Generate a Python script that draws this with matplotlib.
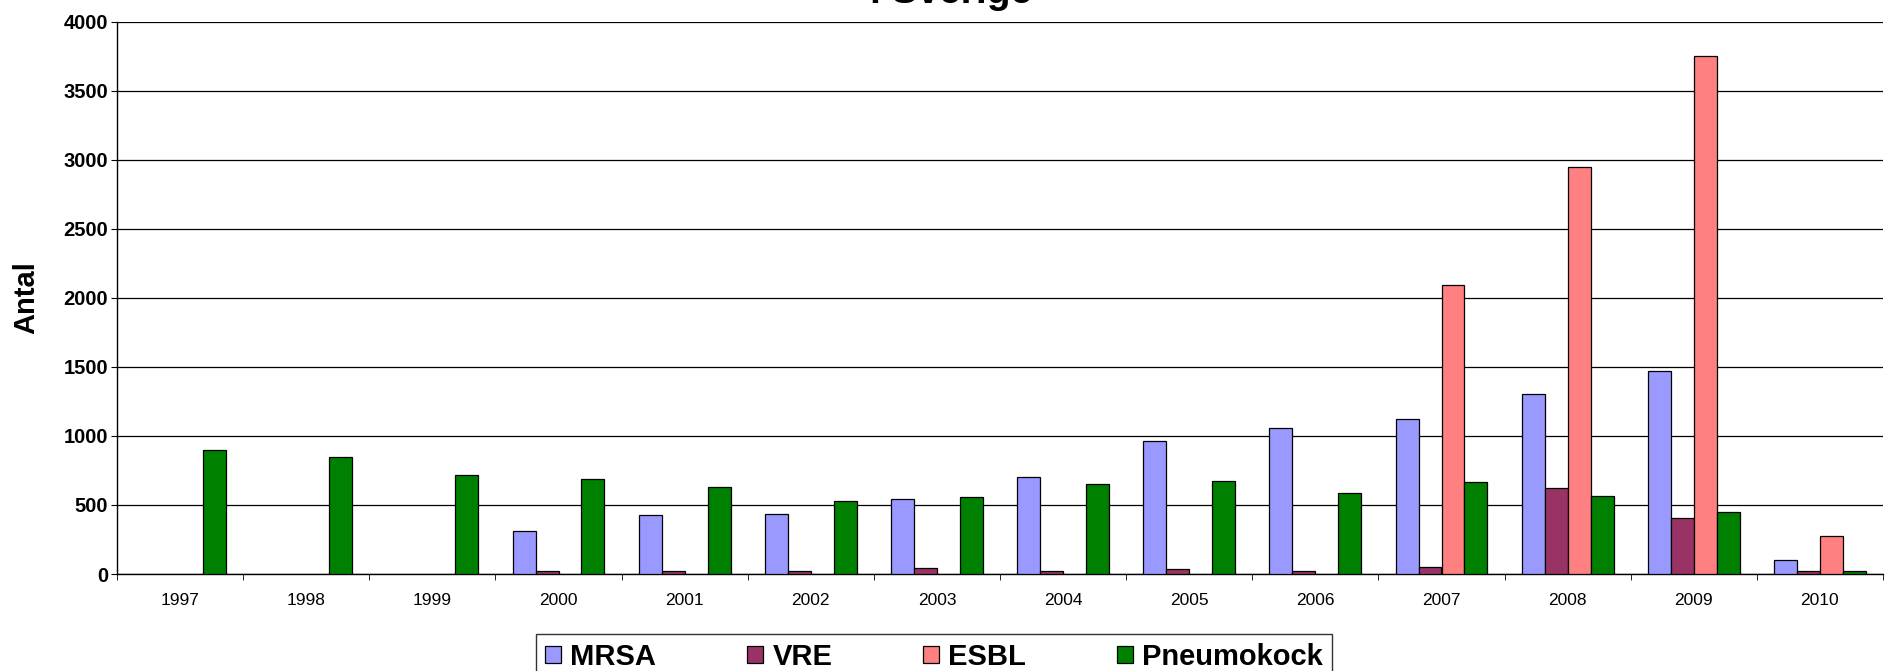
import matplotlib
matplotlib.use('Agg')
import matplotlib.pyplot as plt
import numpy as np

plt.rcParams['font.family'] = ['Liberation Sans', 'DejaVu Sans']

# data (None = no bar)
years = ['1997', '1998', '1999', '2000', '2001', '2002', '2003',
         '2004', '2005', '2006', '2007', '2008', '2009', '2010']
mrsa = [None, None, None, 313, 424, 436, 540, 700, 965, 1057, 1125, 1305, 1473, 99]
vre = [None, None, None, 22, 22, 22, 46, 22, 34, 19, 53, 620, 403, 19]
esbl = [None, None, None, None, None, None, None, None, None, None, 2095, 2950, 3751, 277]
pneumokock = [899, 845, 720, 686, 628, 528, 560, 655, 673, 586, 663, 564, 452, 19]

series = [('MRSA', mrsa, '#9999FF'),
          ('VRE', vre, '#993366'),
          ('ESBL', esbl, '#FF8080'),
          ('Pneumokock', pneumokock, '#008000')]

W, H = 1887, 671
fig = plt.figure(figsize=(W / 100, H / 100), dpi=100)
ax = fig.add_axes([117 / W, 97 / H, (1883 - 117) / W, (574 - 21.7) / H])

x = np.arange(len(years))
bw = 1 / 5.5  # excel gap width 150%
handles = []
for i, (name, vals, col) in enumerate(series):
    off = (i - 1.5) * bw
    xs = [x[j] + off for j, v in enumerate(vals) if v is not None]
    hs = [v for v in vals if v is not None]
    b = ax.bar(xs, hs, width=bw, color=col, edgecolor='black', linewidth=0.9, zorder=3)
    handles.append(b)

ax.set_xlim(-0.5, len(years) - 0.5)
ax.set_ylim(0, 4000)
ax.set_yticks(np.arange(0, 4001, 500))
ax.yaxis.grid(True, color='black', linewidth=0.9, zorder=0)
ax.set_axisbelow(True)

for s in ['top', 'right']:
    ax.spines[s].set_visible(False)
for s in ['left', 'bottom']:
    ax.spines[s].set_color('black')
    ax.spines[s].set_linewidth(1.0)

ax.set_xticks(x)
ax.set_xticklabels(years, fontsize=12.5)
ax.set_xticks(np.arange(-0.5, len(years), 1), minor=True)
ax.tick_params(axis='x', which='major', length=0, pad=14)
ax.tick_params(axis='x', which='minor', length=4.5, direction='out', color='black')
ax.tick_params(axis='y', length=4.5, direction='out', color='black', pad=2, labelsize=14.5)
for t in ax.get_yticklabels():
    t.set_fontweight('bold')

ax.set_ylabel('Antal', fontsize=21, fontweight='bold')
ax.yaxis.set_label_coords(-0.0436, 0.5)

fig.text(951 / W, 1 - 3 / H, 'i Sverige', ha='center', va='baseline',
         fontsize=28, fontweight='bold')

leg = fig.legend(handles, [s[0] for s in series], loc='upper left',
                 bbox_to_anchor=(536 / W, 1 - 634 / H), ncol=4,
                 prop={'size': 21, 'weight': 'bold'},
                 frameon=True, fancybox=False, edgecolor='black',
                 handlelength=0.55, handleheight=0.55, handletextpad=0.33,
                 columnspacing=3.1, borderpad=0.3, borderaxespad=0)
leg.get_frame().set_linewidth(1.0)

fig.savefig('out.png', dpi=100)
